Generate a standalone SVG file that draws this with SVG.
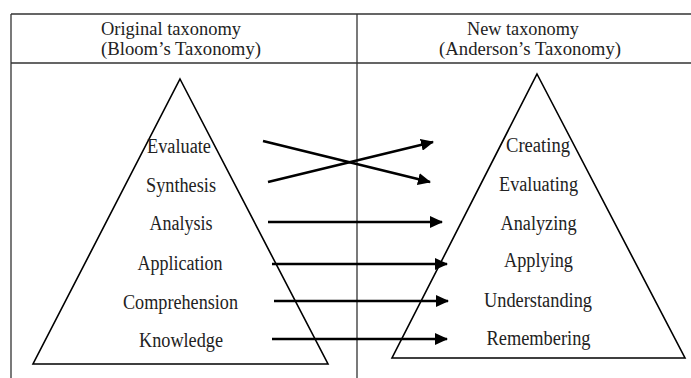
<svg xmlns="http://www.w3.org/2000/svg" width="691" height="378" viewBox="0 0 691 378">
<defs>
<style>
.grid{stroke:#333;stroke-width:1.3;fill:none}
.tri{stroke:#000;stroke-width:1.6;fill:#fff;stroke-linejoin:miter}
.arr{stroke:#000;stroke-width:2.6;fill:none}
text{font-family:"Liberation Serif","Times New Roman",serif;font-size:20px;fill:#222}
.h{font-size:18.5px}
.c{text-anchor:middle}
</style>
<marker id="ah" markerUnits="userSpaceOnUse" markerWidth="13" markerHeight="12" refX="12" refY="6" orient="auto">
<path d="M0,0 L13,6 L0,12 z" fill="#000"/>
</marker>
</defs>
<rect width="691" height="378" fill="#fff"/>
<g id="table">
<path class="grid" d="M11,14 H691 M11,63 H691 M11,14 V378 M357,14 V378"/>
<text class="h" x="101" y="34.5" textLength="140" lengthAdjust="spacingAndGlyphs">Original taxonomy</text>
<text class="h" x="101" y="55" textLength="160" lengthAdjust="spacingAndGlyphs">(Bloom’s Taxonomy)</text>
<text class="h" x="467" y="34.5" textLength="112" lengthAdjust="spacingAndGlyphs">New taxonomy</text>
<text class="h" x="439" y="55" textLength="182" lengthAdjust="spacingAndGlyphs">(Anderson’s Taxonomy)</text>
</g>
<g id="bloom">
<polygon class="tri" points="180,79 328,364 33,364"/>
<text class="c" x="179" y="153" textLength="64" lengthAdjust="spacingAndGlyphs">Evaluate</text>
<text class="c" x="181" y="192" textLength="70" lengthAdjust="spacingAndGlyphs">Synthesis</text>
<text class="c" x="181" y="230" textLength="63" lengthAdjust="spacingAndGlyphs">Analysis</text>
<text class="c" x="180" y="270" textLength="85" lengthAdjust="spacingAndGlyphs">Application</text>
<text class="c" x="180.5" y="309" textLength="115" lengthAdjust="spacingAndGlyphs">Comprehension</text>
<text class="c" x="181" y="347" textLength="84" lengthAdjust="spacingAndGlyphs">Knowledge</text>
</g>
<g id="anderson">
<polygon class="tri" points="537,74 685,358 392,358"/>
<text class="c" x="538" y="152" textLength="64" lengthAdjust="spacingAndGlyphs">Creating</text>
<text class="c" x="538.5" y="191" textLength="79" lengthAdjust="spacingAndGlyphs">Evaluating</text>
<text class="c" x="538.5" y="230" textLength="76" lengthAdjust="spacingAndGlyphs">Analyzing</text>
<text class="c" x="538.5" y="267" textLength="69" lengthAdjust="spacingAndGlyphs">Applying</text>
<text class="c" x="538" y="307" textLength="108" lengthAdjust="spacingAndGlyphs">Understanding</text>
<text class="c" x="538.5" y="345" textLength="104" lengthAdjust="spacingAndGlyphs">Remembering</text>
</g>
<g id="connectors">
<line class="arr" x1="263" y1="141" x2="430" y2="182" marker-end="url(#ah)"/>
<line class="arr" x1="268" y1="182" x2="433" y2="142" marker-end="url(#ah)"/>
<line class="arr" x1="268" y1="222" x2="442" y2="222" marker-end="url(#ah)"/>
<line class="arr" x1="272" y1="264" x2="447" y2="264" marker-end="url(#ah)"/>
<line class="arr" x1="274" y1="301" x2="448" y2="301" marker-end="url(#ah)"/>
<line class="arr" x1="272" y1="339" x2="447" y2="339" marker-end="url(#ah)"/>
</g>
</svg>
